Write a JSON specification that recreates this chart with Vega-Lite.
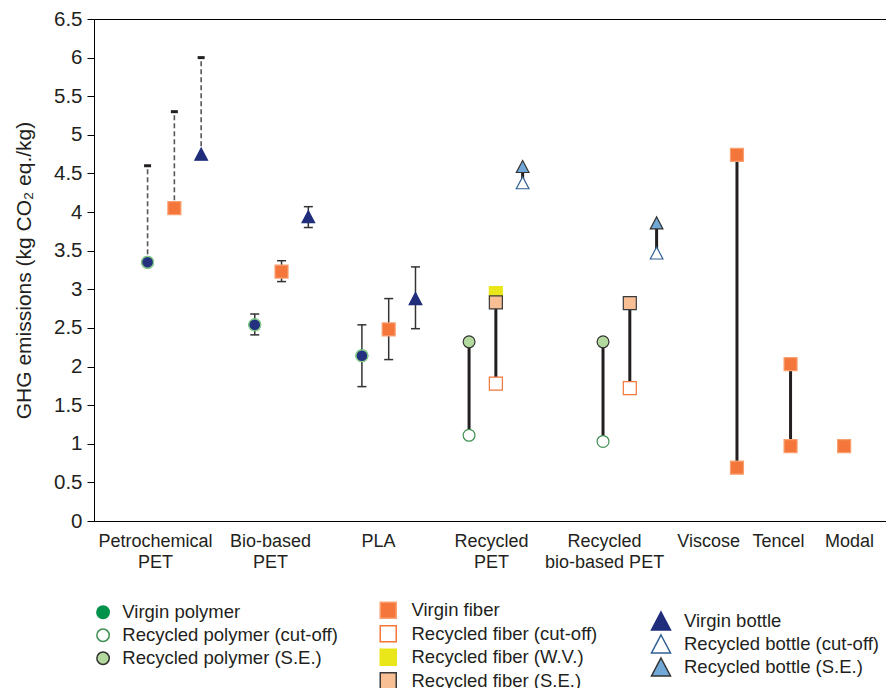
{
  "$schema": "https://vega.github.io/schema/vega-lite/v6.json",
  "width": 793,
  "height": 502,
  "autosize": {"type": "none"},
  "padding": {"left": 94, "top": 19, "right": 0, "bottom": 167},
  "config": {
    "font": "Liberation Sans",
    "view": {"stroke": "#000000", "strokeWidth": 1},
    "axis": {"domainColor": "#000000", "tickColor": "#000000", "labelColor": "#231f20", "titleColor": "#231f20", "grid": false},
    "axisY": {"labelFontSize": 20.5, "tickSize": 7, "labelPadding": 5, "titleFontSize": 21, "titleFontWeight": "normal", "titlePadding": 19},
    "legend": {"labelLimit": 400}
  },
  "datasets": {
    "pts": [
      {"cat": "Petrochemical PET", "pos": 2, "kind": "polymer", "series": "Virgin polymer", "v": 3.35},
      {"cat": "Petrochemical PET", "pos": 3, "kind": "fiber", "series": "Virgin fiber", "v": 4.05},
      {"cat": "Petrochemical PET", "pos": 4, "kind": "bottle", "series": "Virgin bottle", "v": 4.75},
      {"cat": "Bio-based PET", "pos": 6, "kind": "polymer", "series": "Virgin polymer", "v": 2.54},
      {"cat": "Bio-based PET", "pos": 7, "kind": "fiber", "series": "Virgin fiber", "v": 3.23},
      {"cat": "Bio-based PET", "pos": 8, "kind": "bottle", "series": "Virgin bottle", "v": 3.94},
      {"cat": "PLA", "pos": 10, "kind": "polymer", "series": "Virgin polymer", "v": 2.14},
      {"cat": "PLA", "pos": 11, "kind": "fiber", "series": "Virgin fiber", "v": 2.48},
      {"cat": "PLA", "pos": 12, "kind": "bottle", "series": "Virgin bottle", "v": 2.88},
      {"cat": "Recycled PET", "pos": 14, "kind": "polymer", "series": "Recycled polymer (S.E.)", "v": 2.32},
      {"cat": "Recycled PET", "pos": 14, "kind": "polymer", "series": "Recycled polymer (cut-off)", "v": 1.11},
      {"cat": "Recycled PET", "pos": 15, "kind": "fiber", "series": "Recycled fiber (W.V.)", "v": 2.95},
      {"cat": "Recycled PET", "pos": 15, "kind": "fiber", "series": "Recycled fiber (S.E.)", "v": 2.83},
      {"cat": "Recycled PET", "pos": 15, "kind": "fiber", "series": "Recycled fiber (cut-off)", "v": 1.78},
      {"cat": "Recycled PET", "pos": 16, "kind": "bottle", "series": "Recycled bottle (S.E.)", "v": 4.59},
      {"cat": "Recycled PET", "pos": 16, "kind": "bottle", "series": "Recycled bottle (cut-off)", "v": 4.38},
      {"cat": "Recycled bio-based PET", "pos": 19, "kind": "polymer", "series": "Recycled polymer (S.E.)", "v": 2.32},
      {"cat": "Recycled bio-based PET", "pos": 19, "kind": "polymer", "series": "Recycled polymer (cut-off)", "v": 1.03},
      {"cat": "Recycled bio-based PET", "pos": 20, "kind": "fiber", "series": "Recycled fiber (S.E.)", "v": 2.82},
      {"cat": "Recycled bio-based PET", "pos": 20, "kind": "fiber", "series": "Recycled fiber (cut-off)", "v": 1.72},
      {"cat": "Recycled bio-based PET", "pos": 21, "kind": "bottle", "series": "Recycled bottle (S.E.)", "v": 3.86},
      {"cat": "Recycled bio-based PET", "pos": 21, "kind": "bottle", "series": "Recycled bottle (cut-off)", "v": 3.47},
      {"cat": "Viscose", "pos": 24, "kind": "fiber", "series": "Virgin fiber", "v": 4.74},
      {"cat": "Viscose", "pos": 24, "kind": "fiber", "series": "Virgin fiber", "v": 0.69},
      {"cat": "Tencel", "pos": 26, "kind": "fiber", "series": "Virgin fiber", "v": 2.03},
      {"cat": "Tencel", "pos": 26, "kind": "fiber", "series": "Virgin fiber", "v": 0.97},
      {"cat": "Modal", "pos": 28, "kind": "fiber", "series": "Virgin fiber", "v": 0.97}
    ],
    "rng": [
      {"pos": 2, "lo": 3.35, "hi": 4.6, "style": "dashed"},
      {"pos": 3, "lo": 4.05, "hi": 5.3, "style": "dashed"},
      {"pos": 4, "lo": 4.75, "hi": 6.0, "style": "dashed"},
      {"pos": 6, "lo": 2.41, "hi": 2.68, "style": "error"},
      {"pos": 7, "lo": 3.10, "hi": 3.37, "style": "error"},
      {"pos": 8, "lo": 3.80, "hi": 4.07, "style": "error"},
      {"pos": 10, "lo": 1.74, "hi": 2.54, "style": "error"},
      {"pos": 11, "lo": 2.09, "hi": 2.88, "style": "error"},
      {"pos": 12, "lo": 2.49, "hi": 3.29, "style": "error"},
      {"pos": 14, "lo": 1.11, "hi": 2.32, "style": "connector"},
      {"pos": 15, "lo": 1.78, "hi": 2.83, "style": "connector"},
      {"pos": 16, "lo": 4.38, "hi": 4.59, "style": "connector"},
      {"pos": 19, "lo": 1.03, "hi": 2.32, "style": "connector"},
      {"pos": 20, "lo": 1.72, "hi": 2.82, "style": "connector"},
      {"pos": 21, "lo": 3.47, "hi": 3.86, "style": "connector"},
      {"pos": 24, "lo": 0.69, "hi": 4.74, "style": "connector"},
      {"pos": 26, "lo": 0.97, "hi": 2.03, "style": "connector"}
    ]
  },
  "encoding": {
    "x": {
      "field": "pos",
      "type": "quantitative",
      "scale": {"domain": [0, 29.6], "nice": false, "zero": false},
      "axis": {
        "title": null,
        "values": [2.28, 6.57, 10.6, 14.82, 19.04, 22.92, 25.53, 28.18],
        "labelExpr": "datum.value < 4 ? ['Petrochemical', 'PET'] : datum.value < 8 ? ['Bio-based', 'PET'] : datum.value < 12 ? 'PLA' : datum.value < 17 ? ['Recycled', 'PET'] : datum.value < 21 ? ['Recycled', 'bio-based PET'] : datum.value < 24 ? 'Viscose' : datum.value < 27 ? 'Tencel' : 'Modal'",
        "ticks": false,
        "labelFontSize": 18,
        "labelLineHeight": 21,
        "labelPadding": 11,
        "labelOverlap": false,
        "labelFlush": false,
        "labelBound": false,
        "domainWidth": 1
      }
    }
  },
  "layer": [
    {
      "data": {"name": "rng"},
      "transform": [{"filter": "datum.style == 'dashed'"}],
      "mark": {"type": "rule", "color": "#555555", "strokeWidth": 1.6, "strokeDash": [5, 3]},
      "encoding": {
        "y": {"field": "lo", "type": "quantitative", "title": "GHG emissions (kg CO₂ eq./kg)", "scale": {"domain": [0, 6.5], "nice": false, "zero": true}, "axis": {"values": [0, 0.5, 1, 1.5, 2, 2.5, 3, 3.5, 4, 4.5, 5, 5.5, 6, 6.5], "format": "~g", "labelOverlap": false}},
        "y2": {"field": "hi"}
      }
    },
    {
      "data": {"name": "rng"},
      "transform": [{"filter": "datum.style == 'error'"}],
      "mark": {"type": "rule", "color": "#333333", "strokeWidth": 1.5},
      "encoding": {
        "y": {"field": "lo", "type": "quantitative", "title": "GHG emissions (kg CO₂ eq./kg)", "axis": {"values": [0, 0.5, 1, 1.5, 2, 2.5, 3, 3.5, 4, 4.5, 5, 5.5, 6, 6.5], "format": "~g", "labelOverlap": false}},
        "y2": {"field": "hi"}
      }
    },
    {
      "data": {"name": "rng"},
      "transform": [{"filter": "datum.style == 'connector'"}],
      "mark": {"type": "rule", "color": "#231f20", "strokeWidth": 3},
      "encoding": {
        "y": {"field": "lo", "type": "quantitative", "title": "GHG emissions (kg CO₂ eq./kg)", "axis": {"values": [0, 0.5, 1, 1.5, 2, 2.5, 3, 3.5, 4, 4.5, 5, 5.5, 6, 6.5], "format": "~g", "labelOverlap": false}},
        "y2": {"field": "hi"}
      }
    },
    {
      "data": {"name": "rng"},
      "transform": [
        {"fold": ["lo", "hi"], "as": ["end", "yv"]},
        {"filter": "datum.style == 'error'"}
      ],
      "mark": {"type": "tick", "orient": "horizontal", "color": "#333333", "size": 9, "thickness": 1.5, "opacity": 1},
      "encoding": {
        "y": {"field": "yv", "type": "quantitative", "title": "GHG emissions (kg CO₂ eq./kg)", "axis": {"values": [0, 0.5, 1, 1.5, 2, 2.5, 3, 3.5, 4, 4.5, 5, 5.5, 6, 6.5], "format": "~g", "labelOverlap": false}}
      }
    },
    {
      "data": {"name": "rng"},
      "transform": [
        {"fold": ["lo", "hi"], "as": ["end", "yv"]},
        {"filter": "datum.style == 'dashed' && datum.end == 'hi'"}
      ],
      "mark": {"type": "tick", "orient": "horizontal", "color": "#231f20", "size": 7, "thickness": 3, "opacity": 1},
      "encoding": {
        "y": {"field": "yv", "type": "quantitative", "title": "GHG emissions (kg CO₂ eq./kg)", "axis": {"values": [0, 0.5, 1, 1.5, 2, 2.5, 3, 3.5, 4, 4.5, 5, 5.5, 6, 6.5], "format": "~g", "labelOverlap": false}}
      }
    },
    {
      "data": {"name": "pts"},
      "transform": [{"filter": "datum.kind == 'polymer'"}],
      "mark": {"type": "point", "opacity": 1, "strokeWidth": 1.2, "size": 140},
      "encoding": {
        "y": {"field": "v", "type": "quantitative", "title": "GHG emissions (kg CO₂ eq./kg)", "axis": {"values": [0, 0.5, 1, 1.5, 2, 2.5, 3, 3.5, 4, 4.5, 5, 5.5, 6, 6.5], "format": "~g", "labelOverlap": false}},
        "fill": {
          "field": "series", "type": "nominal",
          "scale": {"domain": ["Virgin polymer", "Recycled polymer (cut-off)", "Recycled polymer (S.E.)"], "range": ["#00924a", "#ffffff", "#b3d99e"]},
          "legend": {"title": null, "orient": "none", "legendX": -0.2, "legendY": 584, "direction": "vertical", "labelFontSize": 18.5, "labelOffset": 10, "rowPadding": 4, "symbolSize": 154, "symbolStrokeWidth": 1.5, "labelColor": "#231f20", "labelLimit": 400}
        },
        "stroke": {
          "field": "series", "type": "nominal",
          "scale": {"domain": ["Virgin polymer", "Recycled polymer (cut-off)", "Recycled polymer (S.E.)"], "range": ["#00924a", "#3f8f52", "#333333"]},
          "legend": {"title": null, "orient": "none", "legendX": -0.2, "legendY": 584, "direction": "vertical", "labelFontSize": 18.5, "labelOffset": 10, "rowPadding": 4, "symbolSize": 154, "symbolStrokeWidth": 1.5, "labelColor": "#231f20", "labelLimit": 400}
        },
        "shape": {
          "field": "series", "type": "nominal",
          "scale": {"domain": ["Virgin polymer", "Recycled polymer (cut-off)", "Recycled polymer (S.E.)"], "range": ["circle", "circle", "circle"]},
          "legend": {"title": null, "orient": "none", "legendX": -0.2, "legendY": 584, "direction": "vertical", "labelFontSize": 18.5, "labelOffset": 10, "rowPadding": 4, "symbolSize": 154, "symbolStrokeWidth": 1.5, "labelColor": "#231f20", "labelLimit": 400}
        }
      }
    },
    {
      "data": {"name": "pts"},
      "transform": [{"filter": "datum.series == 'Virgin polymer'"}],
      "mark": {"type": "point", "shape": "circle", "opacity": 1, "filled": true, "fill": "#24317f", "stroke": "#8fd08a", "strokeWidth": 1.2, "size": 140},
      "encoding": {
        "y": {"field": "v", "type": "quantitative", "title": "GHG emissions (kg CO₂ eq./kg)", "axis": {"values": [0, 0.5, 1, 1.5, 2, 2.5, 3, 3.5, 4, 4.5, 5, 5.5, 6, 6.5], "format": "~g", "labelOverlap": false}}
      }
    },
    {
      "data": {"name": "pts"},
      "transform": [{"filter": "datum.kind == 'fiber'"}],
      "mark": {"type": "point", "opacity": 1, "strokeWidth": 1.2, "size": 169},
      "encoding": {
        "y": {"field": "v", "type": "quantitative", "title": "GHG emissions (kg CO₂ eq./kg)", "axis": {"values": [0, 0.5, 1, 1.5, 2, 2.5, 3, 3.5, 4, 4.5, 5, 5.5, 6, 6.5], "format": "~g", "labelOverlap": false}},
        "fill": {
          "field": "series", "type": "nominal",
          "scale": {"domain": ["Virgin fiber", "Recycled fiber (cut-off)", "Recycled fiber (W.V.)", "Recycled fiber (S.E.)"], "range": ["#f4763a", "#ffffff", "#e9e619", "#f9bf94"]},
          "legend": {"title": null, "orient": "none", "legendX": 285, "legendY": 582, "direction": "vertical", "labelFontSize": 18.5, "labelOffset": 14, "rowPadding": 0.5, "symbolSize": 256, "symbolStrokeWidth": 1.5, "labelColor": "#231f20", "labelLimit": 400}
        },
        "stroke": {
          "field": "series", "type": "nominal",
          "scale": {"domain": ["Virgin fiber", "Recycled fiber (cut-off)", "Recycled fiber (W.V.)", "Recycled fiber (S.E.)"], "range": ["#f8a070", "#f4763a", "#e9e619", "#3a3a3a"]},
          "legend": {"title": null, "orient": "none", "legendX": 285, "legendY": 582, "direction": "vertical", "labelFontSize": 18.5, "labelOffset": 14, "rowPadding": 0.5, "symbolSize": 256, "symbolStrokeWidth": 1.5, "labelColor": "#231f20", "labelLimit": 400}
        },
        "shape": {
          "field": "series", "type": "nominal",
          "scale": {"domain": ["Virgin fiber", "Recycled fiber (cut-off)", "Recycled fiber (W.V.)", "Recycled fiber (S.E.)"], "range": ["square", "square", "square", "square"]},
          "legend": {"title": null, "orient": "none", "legendX": 285, "legendY": 582, "direction": "vertical", "labelFontSize": 18.5, "labelOffset": 14, "rowPadding": 0.5, "symbolSize": 256, "symbolStrokeWidth": 1.5, "labelColor": "#231f20", "labelLimit": 400}
        }
      }
    },
    {
      "data": {"name": "pts"},
      "transform": [{"filter": "datum.kind == 'bottle'"}],
      "mark": {"type": "point", "opacity": 1, "strokeWidth": 1.2, "size": 160},
      "encoding": {
        "y": {"field": "v", "type": "quantitative", "title": "GHG emissions (kg CO₂ eq./kg)", "axis": {"values": [0, 0.5, 1, 1.5, 2, 2.5, 3, 3.5, 4, 4.5, 5, 5.5, 6, 6.5], "format": "~g", "labelOverlap": false}},
        "fill": {
          "field": "series", "type": "nominal",
          "scale": {"domain": ["Virgin bottle", "Recycled bottle (cut-off)", "Recycled bottle (S.E.)"], "range": ["#1f2d7b", "#ffffff", "#72a8d8"]},
          "legend": {"title": null, "orient": "none", "legendX": 556.5, "legendY": 591.5, "direction": "vertical", "labelFontSize": 18.5, "labelOffset": 12.5, "rowPadding": -2, "symbolSize": 361, "symbolStrokeWidth": 1.5, "labelColor": "#231f20", "labelLimit": 400}
        },
        "stroke": {
          "field": "series", "type": "nominal",
          "scale": {"domain": ["Virgin bottle", "Recycled bottle (cut-off)", "Recycled bottle (S.E.)"], "range": ["#1f2d7b", "#2f5f92", "#333333"]},
          "legend": {"title": null, "orient": "none", "legendX": 556.5, "legendY": 591.5, "direction": "vertical", "labelFontSize": 18.5, "labelOffset": 12.5, "rowPadding": -2, "symbolSize": 361, "symbolStrokeWidth": 1.5, "labelColor": "#231f20", "labelLimit": 400}
        },
        "shape": {
          "field": "series", "type": "nominal",
          "scale": {"domain": ["Virgin bottle", "Recycled bottle (cut-off)", "Recycled bottle (S.E.)"], "range": ["M0,-0.95L1,0.95L-1,0.95Z", "M0,-0.95L1,0.95L-1,0.95Z", "M0,-0.95L1,0.95L-1,0.95Z"]},
          "legend": {"title": null, "orient": "none", "legendX": 556.5, "legendY": 591.5, "direction": "vertical", "labelFontSize": 18.5, "labelOffset": 12.5, "rowPadding": -2, "symbolSize": 361, "symbolStrokeWidth": 1.5, "labelColor": "#231f20", "labelLimit": 400}
        }
      }
    }
  ],
  "resolve": {
    "scale": {"fill": "independent", "stroke": "independent", "shape": "independent"},
    "legend": {"fill": "independent", "stroke": "independent", "shape": "independent"}
  }
}
